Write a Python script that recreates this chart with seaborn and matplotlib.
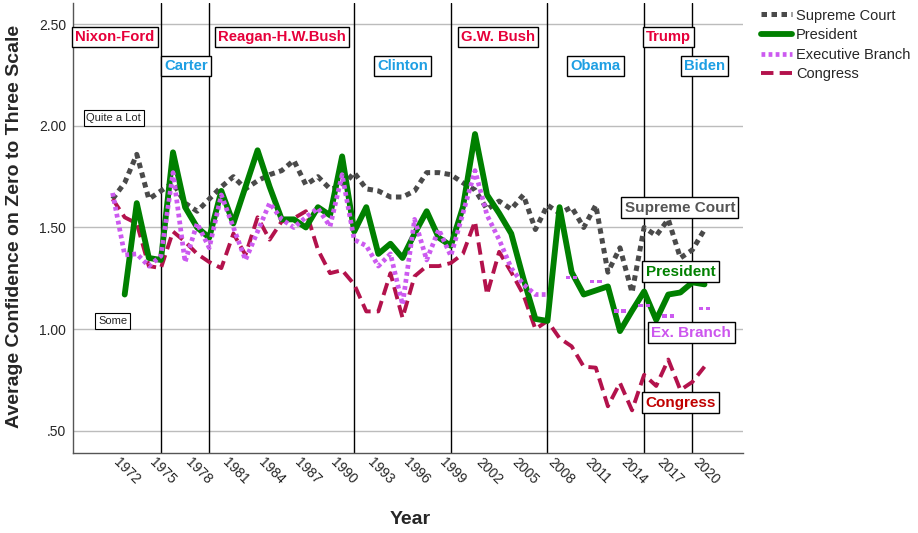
import numpy as np
import pandas as pd
import seaborn as sns
import matplotlib.pyplot as plt
import matplotlib.transforms as mtransforms
from matplotlib.path import Path

sns.set_style('white')
plt.rcParams['font.family'] = ['Liberation Sans', 'DejaVu Sans']

# values (0-3 confidence scale, averaged)
years_sc = list(range(1972, 2022))
supreme_court = [1.64, 1.72, 1.86, 1.64, 1.68, 1.72, 1.62, 1.58, 1.64, 1.70,
                 1.75, 1.69, 1.73, 1.76, 1.78, 1.83, 1.71, 1.75, 1.69, 1.70,
                 1.77, 1.69, 1.68, 1.65, 1.65, 1.68, 1.77, 1.77, 1.76, 1.72,
                 1.685, 1.59, 1.63, 1.59, 1.66, 1.49, 1.61, 1.57, 1.60, 1.50,
                 1.61, 1.28, 1.40, 1.18, 1.50, 1.46, 1.54, 1.35, 1.39, 1.49]

years_pres = list(range(1973, 2022))
president = [1.17, 1.62, 1.35, 1.34, 1.87, 1.60, 1.50, 1.45, 1.68, 1.52,
             1.70, 1.88, 1.70, 1.54, 1.54, 1.50, 1.60, 1.56, 1.85, 1.48,
             1.60, 1.37, 1.42, 1.35, 1.47, 1.58, 1.45, 1.41, 1.60, 1.96,
             1.66, 1.57, 1.47, 1.25, 1.05, 1.04, 1.60, 1.28, 1.17, 1.19,
             1.21, 0.99, 1.09, 1.185, 1.045, 1.17, 1.18, 1.23, 1.22]

years_exec = list(range(1972, 2009))
executive = [1.67, 1.365, 1.37, 1.31, 1.36, 1.77, 1.33, 1.52, 1.40, 1.66,
             1.50, 1.34, 1.48, 1.62, 1.54, 1.50, 1.55, 1.595, 1.505, 1.76,
             1.44, 1.41, 1.31, 1.37, 1.12, 1.54, 1.34, 1.49, 1.36, 1.57,
             1.78, 1.56, 1.44, 1.30, 1.22, 1.17, 1.17]
# later executive branch readings only show as short isolated bits
years_exec_late = [2010, 2012, 2014, 2016, 2018, 2021]
executive_late = [1.255, 1.235, 1.09, 1.115, 1.065, 1.10]

years_cong = list(range(1972, 2022))
congress = [1.64, 1.55, 1.52, 1.31, 1.30, 1.48, 1.43, 1.37, 1.33, 1.30,
            1.47, 1.365, 1.55, 1.44, 1.53, 1.545, 1.58, 1.39, 1.275, 1.29,
            1.22, 1.087, 1.087, 1.275, 1.055, 1.26, 1.31, 1.31, 1.325, 1.37,
            1.53, 1.17, 1.38, 1.28, 1.17, 1.00, 1.04, 0.955, 0.915, 0.815,
            0.81, 0.62, 0.735, 0.60, 0.775, 0.72, 0.85, 0.70, 0.74, 0.815]

# presidencies (vertical lines at election years)
transitions = [1976, 1980, 1992, 2000, 2008, 2016, 2020]
admins = ['Nixon-Ford', 'Carter', 'Reagan-H.W.Bush', 'Clinton', 'G.W. Bush',
          'Obama', 'Trump', 'Biden']
admin_x = [1972.2, 1978.1, 1986.0, 1996.0, 2003.9, 2012.0, 2018.0, 2021.0]
admin_party = ['R', 'D', 'R', 'D', 'R', 'D', 'R', 'D']

xticks = list(range(1972, 2021, 3))
yticks = [0.5, 1.0, 1.5, 2.0, 2.5]
ytick_labels = ['.50', '1.00', '1.50', '2.00', '2.50']

fig = plt.figure(figsize=(9.18, 5.33), dpi=100)
ax = fig.add_axes([0.0795, 0.1501, 0.7298, 0.8443])

c_sc = '#4a4a4a'
c_pres = '#008000'
c_exec = '#cc5af0'
c_cong = '#b3124c'

sns.lineplot(x=years_sc, y=supreme_court, ax=ax, color=c_sc, linewidth=3.6,
             linestyle=(0, (1.1, 0.9)), label='Supreme Court', zorder=3)
sns.lineplot(x=years_pres, y=president, ax=ax, color=c_pres, linewidth=4.2,
             label='President', zorder=4)
sns.lineplot(x=years_exec, y=executive, ax=ax, color=c_exec, linewidth=3.4,
             linestyle=(0, (0.8, 0.7)), label='Executive Branch', zorder=5)
sns.lineplot(x=years_cong, y=congress, ax=ax, color=c_cong, linewidth=2.8,
             linestyle=(0, (3.2, 1.6)), label='Congress', zorder=3)
for ln in ax.get_lines():
    ln.set_dash_capstyle('butt')

two_dots = Path([(-1, -0.3), (-0.25, -0.3), (-0.25, 0.3), (-1, 0.3), (-1, -0.3),
                 (0.25, -0.3), (1, -0.3), (1, 0.3), (0.25, 0.3), (0.25, -0.3)],
                [Path.MOVETO, Path.LINETO, Path.LINETO, Path.LINETO, Path.CLOSEPOLY] * 2)
sns.scatterplot(x=years_exec_late, y=executive_late, ax=ax, marker=two_dots,
                s=70, color=c_exec, edgecolor='none', zorder=5, legend=False)

for t in transitions:
    ax.axvline(t, color='black', linewidth=1, zorder=2)

ax.set_xlim(1968.72, 2024.18)
ax.set_ylim(0.39, 2.605)
ax.set_yticks(yticks)
ax.set_yticklabels(ytick_labels, fontsize=10)
ax.set_xticks(xticks)
ax.set_xticklabels([str(x) for x in xticks], fontsize=10, rotation=-45,
                   ha='left', va='top', rotation_mode='anchor')
ax.tick_params(axis='both', length=0)
ax.tick_params(axis='x', pad=2)
ax.tick_params(axis='y', pad=5)
shift = mtransforms.ScaledTranslation(8 / 100, 1 / 100, fig.dpi_scale_trans)
for lbl in ax.get_xticklabels():
    lbl.set_transform(lbl.get_transform() + shift)
ax.yaxis.grid(True, color='#bcbcbc', linewidth=1)
ax.xaxis.grid(False)
ax.set_axisbelow(True)
for side in ['top', 'right']:
    ax.spines[side].set_visible(False)
for side in ['left', 'bottom']:
    ax.spines[side].set_color('#555555')
    ax.spines[side].set_linewidth(1)
ax.set_xlabel('')
ax.set_ylabel('')

box = dict(boxstyle='square,pad=0.22', facecolor='white', edgecolor='black', linewidth=1)
for name, x, party in zip(admins, admin_x, admin_party):
    y = 2.438 if party == 'R' else 2.295
    col = '#e6003a' if party == 'R' else '#1e9fe3'
    ax.text(x, y, name, color=col, fontsize=10.7, fontweight='bold',
            ha='center', va='center', bbox=box, zorder=6)

small_box = dict(boxstyle='square,pad=0.25', facecolor='white', edgecolor='black', linewidth=0.8)
ax.text(1972.1, 2.04, 'Quite a Lot', fontsize=8, ha='center', va='center', bbox=small_box, zorder=6)
ax.text(1972.0, 1.04, 'Some', fontsize=8, ha='center', va='center', bbox=small_box, zorder=6)

series_labels = [('Supreme Court', 2018.96, 1.597, '#555555'),
                 ('President', 2019.0, 1.282, '#008000'),
                 ('Ex. Branch', 2019.9, 0.982, '#cc55ee'),
                 ('Congress', 2019.0, 0.637, '#c00000')]
for txt, x, y, col in series_labels:
    ax.text(x, y, txt, color=col, fontsize=11, fontweight='bold',
            ha='center', va='center', bbox=box, zorder=7)

ax.legend(loc='upper left', bbox_to_anchor=(0.829, 0.984), bbox_transform=fig.transFigure,
          frameon=False, fontsize=10.5, handlelength=2.1, handletextpad=0.3,
          labelspacing=0.38, borderaxespad=0, borderpad=0)

fig.text(15 / 918, 1 - 226 / 533, 'Average Confidence on Zero to Three Scale',
         rotation=90, fontsize=14, fontweight='bold', ha='center', va='center')
fig.text(410 / 918, 1 - 520 / 533, 'Year', fontsize=14, fontweight='bold',
         ha='center', va='center')

fig.savefig('out.png', dpi=100)
